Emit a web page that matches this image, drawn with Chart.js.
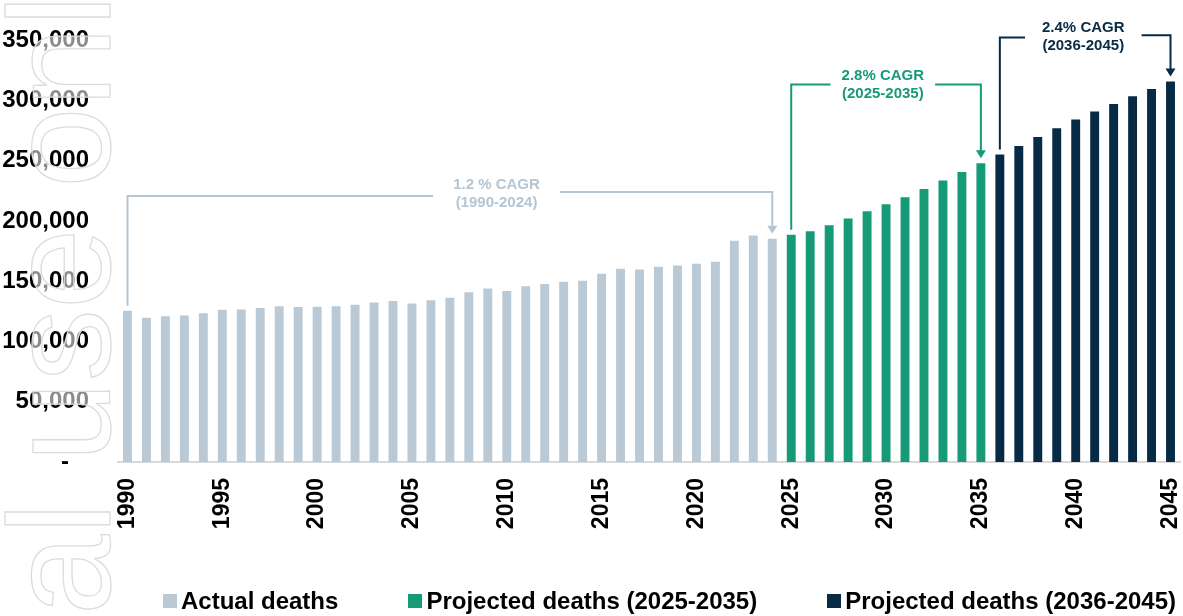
<!DOCTYPE html>
<html>
<head>
<meta charset="utf-8">
<script src="https://cdn.jsdelivr.net/npm/chart.js@4.4.1/dist/chart.umd.min.js"></script>
<style>
    html, body { margin: 0; padding: 0; background: #fff; }
    #quadro { position: relative; width: 1183px; height: 616px; }
    #legenda {
        position: absolute; left: 163px; top: 589px;
        display: flex; align-items: center;
        font: bold 24px "Liberation Sans", Arial, sans-serif; line-height: 24px; color: #000;
    }
    #legenda .item { display: flex; align-items: center; margin-right: 70px; white-space: nowrap; }
    #legenda .caixa { display: inline-block; width: 14px; height: 14px; margin-right: 4px; }
</style>
</head>
<body>
<div id="quadro">
    <canvas id="graficoMortes" width="1183" height="616"></canvas>
    <div id="legenda"></div>
</div>
<script>
var anos = ['1990', '1991', '1992', '1993', '1994', '1995', '1996', '1997', '1998', '1999',
    '2000', '2001', '2002', '2003', '2004', '2005', '2006', '2007', '2008', '2009',
    '2010', '2011', '2012', '2013', '2014', '2015', '2016', '2017', '2018', '2019',
    '2020', '2021', '2022', '2023', '2024', '2025', '2026', '2027', '2028', '2029',
    '2030', '2031', '2032', '2033', '2034', '2035', '2036', '2037', '2038', '2039',
    '2040', '2041', '2042', '2043', '2044', '2045'];

// 1990-2024
var mortesReais = [125400, 119600, 121000, 121600, 123500, 126300, 126600, 127700, 129300, 128500,
    128800, 129300, 130400, 132400, 133500, 131500, 134300, 136200, 140900, 144000,
    141800, 145900, 147600, 149500, 150300, 156100, 160300, 159800, 161900, 163100,
    164400, 166100, 183500, 188000, 185200];
// 2025-2035
var mortesProjetadas1 = [188500, 191500, 196500, 202000, 208100, 213900, 219700, 226600, 233500, 240700, 247900];
// 2036-2045
var mortesProjetadas2 = [255100, 262200, 269700, 276900, 284100, 290800, 297100, 303500, 309500, 315700];

var marcasY = [0, 50000, 100000, 150000, 200000, 250000, 300000, 350000];

var corReal = '#b9c9d6';
var corProj1 = '#169a78';
var corProj2 = '#072b45';
var fonte = '"Liberation Sans", Arial, sans-serif';

var todosValores = mortesReais.concat(mortesProjetadas1, mortesProjetadas2);

// cada serie ocupa so os seus anos, o resto fica null
var dadosReais = anos.map((a, i) => i < mortesReais.length ? mortesReais[i] : null);
var dadosProj1 = anos.map((a, i) => {
    var k = i - mortesReais.length;
    return k >= 0 && k < mortesProjetadas1.length ? mortesProjetadas1[k] : null;
});
var dadosProj2 = anos.map((a, i) => {
    var k = i - mortesReais.length - mortesProjetadas1.length;
    return k >= 0 ? mortesProjetadas2[k] : null;
});

// setas de CAGR (niveis em numero de mortes, centro do texto em ano)
var notasCagr = [
    { de: '1990', ate: '2024', nivelEsq: 220600, nivelDir: 224000, centro: 2009.46, folga: 20,
        linhas: ['1.2 % CAGR', '(1990-2024)'], cor: '#b4c5d3' },
    { de: '2025', ate: '2035', nivelEsq: 313300, nivelDir: 313300, centro: 2029.83, folga: 11,
        linhas: ['2.8% CAGR', '(2025-2035)'], cor: corProj1 },
    { de: '2036', ate: '2045', nivelEsq: 352200, nivelDir: 354100, centro: 2040.4, folga: 17,
        linhas: ['2.4% CAGR', '(2036-2045)'], cor: corProj2 }
];

const pluginCagr = {
    id: 'cagr',
    afterDatasetsDraw(chart) {
        const ctx = chart.ctx;
        const eixoX = chart.scales.x;
        const eixoY = chart.scales.y;
        const passo = eixoX.getPixelForValue(1) - eixoX.getPixelForValue(0);

        notasCagr.forEach(nota => {
            const i0 = anos.indexOf(nota.de);
            const i1 = anos.indexOf(nota.ate);
            const x0 = eixoX.getPixelForValue(i0);
            const x1 = eixoX.getPixelForValue(i1);
            const topo0 = eixoY.getPixelForValue(todosValores[i0]) - 5;
            const topo1 = eixoY.getPixelForValue(todosValores[i1]) - 5;
            const yEsq = eixoY.getPixelForValue(nota.nivelEsq);
            const yDir = eixoY.getPixelForValue(nota.nivelDir);
            const xc = eixoX.getPixelForValue(0) + (nota.centro - Number(anos[0])) * passo;

            ctx.save();
            ctx.font = 'bold 15px ' + fonte;
            const largura = Math.max(...nota.linhas.map(l => ctx.measureText(l).width));
            const meia = largura / 2 + nota.folga;

            ctx.strokeStyle = nota.cor;
            ctx.lineWidth = 2;
            ctx.beginPath();
            ctx.moveTo(x0, topo0);
            ctx.lineTo(x0, yEsq);
            ctx.lineTo(xc - meia, yEsq);
            ctx.moveTo(xc + meia, yDir);
            ctx.lineTo(x1, yDir);
            ctx.lineTo(x1, topo1 - 7);
            ctx.stroke();

            // ponta da seta
            ctx.fillStyle = nota.cor;
            ctx.beginPath();
            ctx.moveTo(x1 - 5, topo1 - 8);
            ctx.lineTo(x1 + 5, topo1 - 8);
            ctx.lineTo(x1, topo1);
            ctx.closePath();
            ctx.fill();

            ctx.textAlign = 'center';
            ctx.textBaseline = 'middle';
            const yMeio = (yEsq + yDir) / 2;
            ctx.fillText(nota.linhas[0], xc, yMeio - 9);
            ctx.fillText(nota.linhas[1], xc, yMeio + 9);
            ctx.restore();
        });
    }
};

// marca d'agua "Internal use only" na esquerda
const pluginMarca = {
    id: 'marca',
    afterDraw(chart) {
        const ctx = chart.ctx;
        ctx.save();
        ctx.translate(110, 986);
        ctx.rotate(-Math.PI / 2);
        ctx.font = '145px ' + fonte;
        ctx.fillStyle = 'rgba(255,255,255,0.55)';
        ctx.fillText('Internal use only', 0, 0);
        ctx.strokeStyle = '#dcdcdc';
        ctx.lineWidth = 1.3;
        ctx.strokeText('Internal use only', 0, 0);
        ctx.restore();
    }
};

const canvasMortes = document.getElementById('graficoMortes');

const dataMortes = {
    labels: anos,
    datasets: [{
        label: 'Actual deaths',
        data: dadosReais,
        backgroundColor: corReal
    }, {
        label: 'Projected deaths (2025-2035)',
        data: dadosProj1,
        backgroundColor: corProj1
    }, {
        label: 'Projected deaths (2036-2045)',
        data: dadosProj2,
        backgroundColor: corProj2
    }]
};

const configMortes = {
    type: 'bar',
    data: dataMortes,
    options: {
        responsive: false,
        animation: false,
        grouped: false,
        barPercentage: 0.47,
        categoryPercentage: 1,
        layout: { padding: { top: 4, right: 3, left: 0, bottom: 0 } },
        scales: {
            x: {
                grid: { display: false, drawTicks: false },
                border: { color: '#d9d9d9', width: 2 },
                afterFit: eixo => { eixo.height = 154; eixo.paddingRight = 0; eixo.paddingLeft = 0; },
                ticks: {
                    autoSkip: false,
                    minRotation: 90,
                    maxRotation: 90,
                    padding: 16,
                    color: '#000',
                    font: { family: fonte, size: 23, weight: 'bold' },
                    callback: (v, i) => Number(anos[i]) % 5 === 0 ? anos[i] : ''
                }
            },
            y: {
                min: 0,
                max: 380000,
                grid: { display: false, drawTicks: false },
                border: { display: false },
                afterBuildTicks: eixo => { eixo.ticks = marcasY.map(v => ({ value: v })); },
                afterFit: eixo => { eixo.width = 118; eixo.paddingTop = 0; eixo.paddingBottom = 0; },
                ticks: {
                    padding: 29,
                    color: '#000',
                    font: { family: fonte, size: 24, weight: 'bold' },
                    callback: v => v === 0 ? '-   ' : v.toLocaleString('en-US')
                }
            }
        },
        plugins: {
            legend: { display: false },
            tooltip: { enabled: false }
        }
    },
    plugins: [pluginCagr, pluginMarca]
};

const graficoMortes = new Chart(canvasMortes, configMortes);

// legenda em html
const legenda = document.getElementById('legenda');
graficoMortes.data.datasets.forEach(ds => {
    const item = document.createElement('div');
    item.className = 'item';
    const caixa = document.createElement('span');
    caixa.className = 'caixa';
    caixa.style.background = ds.backgroundColor;
    item.appendChild(caixa);
    item.appendChild(document.createTextNode(ds.label));
    legenda.appendChild(item);
});
</script>
</body>
</html>
